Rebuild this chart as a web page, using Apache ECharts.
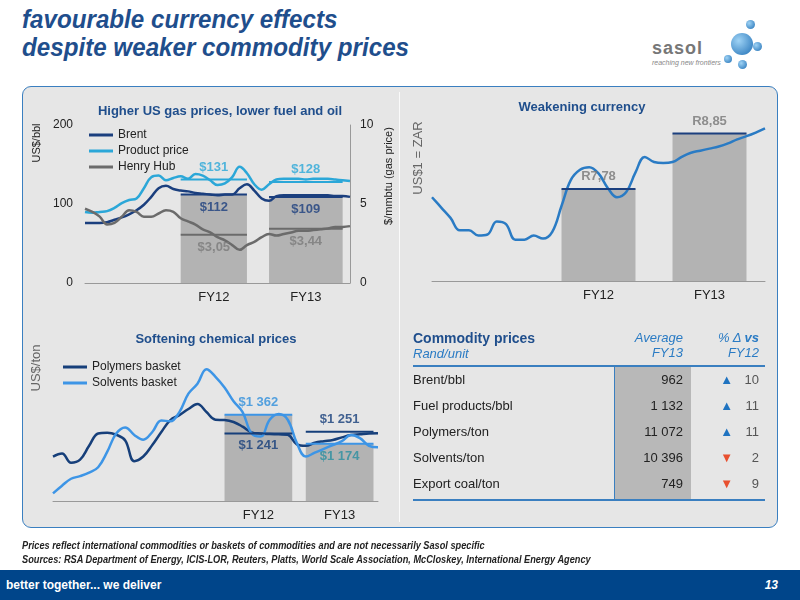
<!DOCTYPE html>
<html>
<head>
<meta charset="utf-8">
<script src="https://cdn.jsdelivr.net/npm/echarts@6/dist/echarts.min.js"></script>
<style>
  body { margin: 0; width: 800px; height: 600px; position: relative; overflow: hidden; background: #fff; font-family: "Liberation Sans", Arial, sans-serif; }
  .title { position: absolute; left: 22px; top: 5px; font: italic bold 26px/28px "Liberation Sans", Arial, sans-serif; color: #1f4e8c; transform: scaleX(0.93); transform-origin: left top; white-space: nowrap; }
  .logo { position: absolute; left: 652px; top: 38px; color: #777; font: bold 18px "Liberation Sans", Arial; letter-spacing: 1px; }
  .logo small { display: block; font: italic 7px "Liberation Sans"; letter-spacing: 0; color: #888; }
  .ball { position: absolute; border-radius: 50%; background: radial-gradient(circle at 35% 35%, #9fd3f5, #1f6fb5); }
  .panel { position: absolute; left: 22px; top: 86px; width: 754px; height: 440px; background: #e6e6e6; border: 1.5px solid #3a7fc0; border-radius: 9px; }
  .vdiv { position: absolute; left: 399px; top: 92px; width: 1px; height: 430px; background: #fafafa; }
  #chart { position: absolute; left: 0; top: 0; width: 800px; height: 600px; }
  .tbl { position: absolute; left: 413px; top: 330px; width: 352px; font-size: 13px; color: #222; }
  .note { position: absolute; left: 22px; top: 539px; font: italic bold 10px/14px "Liberation Sans", Arial; color: #222; transform: scaleX(0.92); transform-origin: left top; white-space: nowrap; }
  .foot { position: absolute; left: 0; top: 570px; width: 800px; height: 30px; background: #00458a; color: #fff; font: bold 12px/30px "Liberation Sans", Arial; }
</style>
</head>
<body>
<div class="title">favourable currency effects<br>despite weaker commodity prices</div>
<div class="logo">sasol<small>reaching new frontiers</small></div>
<div class="ball" style="left:731px;top:33px;width:22px;height:22px"></div>
<div class="ball" style="left:746px;top:20px;width:9px;height:9px"></div>
<div class="ball" style="left:753px;top:42px;width:9px;height:9px"></div>
<div class="ball" style="left:724px;top:55px;width:8px;height:8px"></div>
<div class="ball" style="left:738px;top:60px;width:9px;height:9px"></div>
<div class="panel"></div>
<div class="vdiv"></div>
<div id="chart"></div>
<div class="tbl" id="tbl"></div>
<div class="note">Prices reflect international commodities or baskets of commodities and are not necessarily Sasol specific<br>Sources: RSA Department of Energy, ICIS-LOR, Reuters, Platts, World Scale Association, McCloskey, International Energy Agency</div>
<div class="foot"><span style="margin-left:6px">better together... we deliver</span><span style="position:absolute;right:22px;font-style:italic">13</span></div>
<script>
// --- data ---
var fyLabels = ['FY12', 'FY13'];

// chart 1: oil & gas (months 0..36)
var brent = [76,76,76,77,80,83,87,92,99,109,120,123,119,117,116,114,113,112,111,112,112,120,125,117,107,104,110,111,111,111,111,111,111,111,110,110,109];
var product = [90,89,90,91,95,101,105,107,120,134,136,130,133,135,132,138,136,130,124,126,134,147,139,125,118,125,131,132,132,132,131,132,132,132,131,130,129];
var henryHub = [4.7,4.5,4.2,3.7,3.8,4.2,4.6,4.5,4.2,4.2,4.4,4.6,4.5,4.1,3.9,3.7,3.4,3.2,2.9,2.7,2.4,2.1,2.4,2.6,2.9,3.1,3.0,3.1,3.2,3.3,3.3,3.35,3.4,3.45,3.55,3.55,3.6];
var oilPeriods = [[13, 22], [25, 35]];
var brentAvg = [112, 109];
var productAvg = [131, 128];
var henryAvg = [3.05, 3.44];
var oilFyPos = [17.5, 30];

// chart 2: currency
var zar = [7.62,7.42,7.22,6.98,6.98,6.88,6.9,7.15,7.1,6.8,6.8,6.88,6.82,6.95,7.45,7.95,8.15,8.2,8.08,7.8,7.62,7.72,8.1,8.4,8.3,8.28,8.3,8.4,8.48,8.52,8.56,8.6,8.66,8.74,8.8,8.87,8.95];
var zarPeriods = [[14, 22], [26, 34]];
var zarAvg = [7.78, 8.85];
var zarFyPos = [18, 30];

// chart 3: chemicals
var polymers = [1090,1110,1050,1070,1160,1240,1245,1232,1195,1060,1090,1165,1250,1328,1360,1400,1432,1380,1330,1328,1315,1285,1248,1240,1237,1235,1232,1170,1160,1180,1190,1198,1215,1230,1235,1240,1242];
var solvents = [850,900,945,962,985,1020,1120,1240,1280,1231,1200,1250,1325,1320,1380,1500,1565,1660,1610,1540,1450,1380,1240,1220,1330,1367,1330,1180,1090,1115,1140,1165,1190,1230,1210,1160,1150];
var chemPeriods = [[19, 26.5], [28, 35.5]];
var polymersAvg = [1241, 1251];
var solventsAvg = [1362, 1174];
var chemFyPos = [22.75, 31.75];

// table
var tblRows = ['Brent/bbl', 'Fuel products/bbl', 'Polymers/ton', 'Solvents/ton', 'Export coal/ton'];
var tblAvg = ['962', '1 132', '11 072', '10 396', '749'];
var tblChange = [10, 11, 11, -2, -9];

// --- helpers ---
function pts(arr) { return arr.map(function (v, i) { return [i, v]; }); }
function fmtUsd(v) { return '$' + String(v).replace('.', ',').replace(/\B(?=(\d{3})+(?!\d))/g, ' '); }

function barSeries(idx, yIdx, periods, vals, yMin) {
  return {
    type: 'custom', xAxisIndex: idx, yAxisIndex: yIdx, z: 1, silent: true,
    data: periods.map(function (p, i) { return [p[0], p[1], vals[i]]; }),
    renderItem: function (params, api) {
      var a = api.coord([api.value(0), api.value(2)]);
      var b = api.coord([api.value(1), yMin]);
      return { type: 'rect', shape: { x: a[0], y: a[1], width: b[0] - a[0], height: b[1] - a[1] }, style: { fill: '#b3b3b3' } };
    }
  };
}
function avgSeries(idx, yIdx, periods, vals, color, labelColors, pos, fmt) {
  var out = [];
  periods.forEach(function (p, i) {
    out.push({
      type: 'line', xAxisIndex: idx, yAxisIndex: yIdx, z: 5, symbol: 'none', silent: true,
      lineStyle: { color: color, width: 2 },
      data: [[p[0], vals[i]], [p[1], vals[i]]]
    });
    out.push({
      type: 'scatter', xAxisIndex: idx, yAxisIndex: yIdx, z: 6, symbolSize: 0, silent: true,
      data: [[(p[0] + p[1]) / 2, vals[i]]],
      label: { show: true, position: pos[i], distance: 6, formatter: fmt(vals[i]), color: labelColors[i], fontSize: 13, fontWeight: 'bold' }
    });
  });
  return out;
}
function lineSeries(name, idx, yIdx, data, color) {
  return { name: name, type: 'line', xAxisIndex: idx, yAxisIndex: yIdx, z: 4, smooth: 0.4, symbol: 'none', data: pts(data), lineStyle: { color: color, width: 2.5 }, itemStyle: { color: color } };
}
function xAxis(idx, fyPos) {
  return {
    type: 'value', gridIndex: idx, min: 0, max: 36,
    axisLine: { show: true, lineStyle: { color: '#999' } }, axisTick: { show: false }, splitLine: { show: false },
    axisLabel: { customValues: fyPos, formatter: function (v) { return fyLabels[fyPos.indexOf(v)] || ''; }, color: '#222', fontSize: 13, margin: 8 }
  };
}
function vText(text, x, y, color, size) {
  return { type: 'text', x: x, y: y, rotation: Math.PI / 2, silent: true,
    style: { text: text, fill: color, fontSize: size, align: 'center', verticalAlign: 'middle', fontFamily: '"Liberation Sans", Arial' } };
}
var titleStyle = { color: '#1f4e8c', fontSize: 13, fontWeight: 'bold' };
var legendBase = { orient: 'vertical', itemWidth: 24, itemHeight: 3, icon: 'rect', itemGap: 4, textStyle: { fontSize: 12, color: '#222' } };

var series = [
  barSeries(0, 0, oilPeriods, brentAvg, 0),
  lineSeries('Brent', 0, 0, brent, '#1b3f7e'),
  lineSeries('Product price', 0, 0, product, '#2ba7d8'),
  lineSeries('Henry Hub', 0, 1, henryHub, '#6b6b6b')
]
  .concat(avgSeries(0, 0, oilPeriods, brentAvg, '#1b3f7e', ['#1b3f7e', '#1b3f7e'], ['bottom', 'bottom'], fmtUsd))
  .concat(avgSeries(0, 0, oilPeriods, productAvg, '#2ba7d8', ['#2ba7d8', '#2ba7d8'], ['top', 'top'], fmtUsd))
  .concat(avgSeries(0, 1, oilPeriods, henryAvg, '#6b6b6b', ['#7a7a7a', '#7a7a7a'], ['bottom', 'bottom'], fmtUsd))
  .concat([barSeries(1, 2, zarPeriods, zarAvg, 6), lineSeries('ZAR', 1, 2, zar, '#2a7bc4')])
  .concat(avgSeries(1, 2, zarPeriods, zarAvg, '#1b3f7e', ['#777', '#777'], ['top', 'top'], function (v) { return 'R' + String(v).replace('.', ','); }))
  .concat([barSeries(2, 3, chemPeriods, solventsAvg, 800),
    lineSeries('Polymers basket', 2, 3, polymers, '#163f7a'),
    lineSeries('Solvents basket', 2, 3, solvents, '#3d95e6')])
  .concat(avgSeries(2, 3, chemPeriods, polymersAvg, '#163f7a', ['#163f7a', '#163f7a'], ['bottom', 'top'], fmtUsd))
  .concat(avgSeries(2, 3, chemPeriods, solventsAvg, '#3d95e6', ['#2e8fdc', '#2a8fa0'], ['top', 'bottom'], fmtUsd));

var chart = echarts.init(document.getElementById('chart'));
chart.setOption({
  animation: false,
  textStyle: { fontFamily: '"Liberation Sans", Arial, sans-serif' },
  title: [
    { text: 'Higher US gas prices, lower fuel and oil', left: 215, top: 100, textAlign: 'center', textStyle: titleStyle },
    { text: 'Weakening currency', left: 577, top: 96, textAlign: 'center', textStyle: titleStyle },
    { text: 'Softening chemical prices', left: 211, top: 328, textAlign: 'center', textStyle: titleStyle }
  ],
  graphic: [
    vText('US$/bbl', 37, 143, '#222', 11),
    vText('$/mmbtu (gas price)', 389, 176, '#222', 11),
    vText('US$1 = ZAR', 418, 158, '#666', 13),
    vText('US$/ton', 36, 368, '#666', 13)
  ],
  legend: [
    Object.assign({ data: ['Brent', 'Product price', 'Henry Hub'], left: 84, top: 124 }, legendBase),
    Object.assign({ data: ['Polymers basket', 'Solvents basket'], left: 58, top: 356, itemGap: 6 }, legendBase)
  ],
  grid: [
    { left: 85, width: 265, top: 125, height: 158 },
    { left: 432, width: 333, top: 100, height: 181 },
    { left: 53, width: 325, top: 340, height: 161 }
  ],
  xAxis: [xAxis(0, oilFyPos), xAxis(1, zarFyPos), xAxis(2, chemFyPos)],
  yAxis: [
    { type: 'value', gridIndex: 0, min: 0, max: 200, interval: 100, splitLine: { show: false }, axisLine: { show: false }, axisTick: { show: false },
      axisLabel: { color: '#222', fontSize: 12, margin: 12 } },
    { type: 'value', gridIndex: 0, position: 'right', min: 0, max: 10, interval: 5, splitLine: { show: false }, axisLine: { show: true, lineStyle: { color: '#999' } }, axisTick: { show: false },
      axisLabel: { color: '#222', fontSize: 12, margin: 10 } },
    { type: 'value', gridIndex: 1, min: 6, max: 9.5, splitLine: { show: false }, axisLine: { show: false }, axisTick: { show: false }, axisLabel: { show: false } },
    { type: 'value', gridIndex: 2, min: 800, max: 1850, splitLine: { show: false }, axisLine: { show: false }, axisTick: { show: false }, axisLabel: { show: false } }
  ],
  series: series
});

// table
var html = '<div style="display:flex;border-bottom:2px solid #3a7fc0;padding-bottom:4px">' +
  '<div style="width:200px"><b style="color:#1f4e8c;font-size:14px">Commodity prices</b><br><i style="color:#2a7bc4">Rand/unit</i></div>' +
  '<div style="width:70px;text-align:right;color:#2a7bc4;font-style:italic">Average<br>FY13</div>' +
  '<div style="width:76px;text-align:right;color:#2a7bc4;font-style:italic">% &Delta; <b>vs</b><br>FY12</div></div>';
html += '<div style="position:relative">';
html += '<div style="position:absolute;left:201px;top:0;width:76px;height:132px;background:#b8b8b8;border-left:1.5px solid #3a7fc0"></div>';
tblRows.forEach(function (r, i) {
  var up = tblChange[i] > 0;
  html += '<div style="position:relative;display:flex;height:26px;line-height:26px">' +
    '<div style="width:200px">' + r + '</div>' +
    '<div style="width:70px;text-align:right">' + tblAvg[i] + '</div>' +
    '<div style="width:76px;text-align:right;color:#555"><span style="color:' + (up ? '#1f73c0' : '#e8502f') + ';margin-right:10px">' + (up ? '&#9650;' : '&#9660;') + '</span>' +
    '<span style="display:inline-block;width:16px">' + Math.abs(tblChange[i]) + '</span></div></div>';
});
html += '</div><div style="border-top:2px solid #3a7fc0;margin-top:2px"></div>';
document.getElementById('tbl').innerHTML = html;
</script>
</body>
</html>
